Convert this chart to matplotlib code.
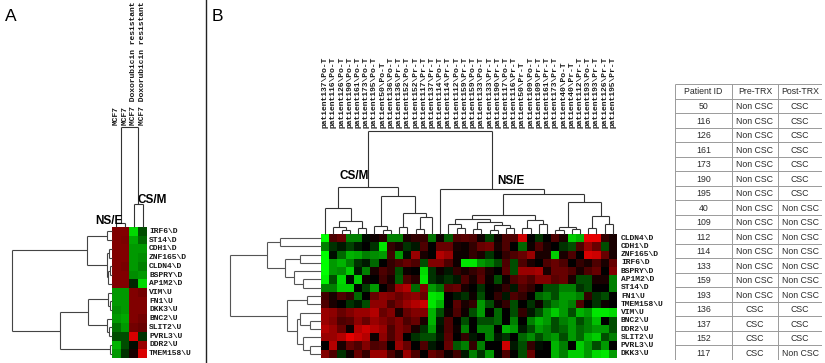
import matplotlib
matplotlib.use("Agg")
import matplotlib.pyplot as plt
from matplotlib.collections import LineCollection
from matplotlib.colors import LinearSegmentedColormap
import numpy as np

W, H = 825, 363

# ---------------- DATA ----------------
a_samples = ["MCF7", "MCF7", "MCF7 Doxorubicin resistant", "MCF7 Doxorubicin resistant"]
a_genes = ["IRF6\\D", "ST14\\D", "CDH1\\D", "ZNF165\\D", "CLDN4\\D", "BSPRY\\D", "AP1M2\\D",
           "VIM\\U", "FN1\\U", "DKK3\\U", "BNC2\\U", "SLIT2\\U", "PVRL3\\U", "DDR2\\U", "TMEM158\\U"]
a_values = [
    [0.5, 0.5, -0.85, -0.3],
    [0.5, 0.48, -0.65, -0.4],
    [0.5, 0.5, -0.6, -0.6],
    [0.5, 0.5, -0.6, -0.55],
    [0.5, 0.47, -0.6, -0.5],
    [0.5, 0.5, -0.55, -0.6],
    [0.5, 0.5, -0.15, -0.85],
    [-0.6, -0.6, 0.5, 0.45],
    [-0.6, -0.6, 0.5, 0.5],
    [-0.55, -0.6, 0.5, 0.5],
    [-0.6, -0.65, 0.5, 0.45],
    [-0.45, -0.6, 0.45, 0.4],
    [-0.3, -0.3, 0.85, -0.2],
    [-0.7, -0.3, -0.05, 0.6],
    [-0.6, -0.2, 0.1, 0.85],
]
# dendrograms: (left, right, height); leaves are display-order indices
a_col_tree = ((0, 1, 0.04), (2, 3, 0.23), 1.0)
a_row_tree = (((0, 1, 0.05), ((2, 3, 0.03), ((4, 5, 0.02), 6, 0.04), 0.05), 0.25),
              (((7, (8, 9, 0.02), 0.04), (10, (11, 12, 0.03), 0.05), 0.24), (13, 14, 0.02), 0.52),
              1.0)

b_samples = ["patient137\\Po-T", "patient116\\Po-T", "patient126\\Po-T", "patient190\\Po-T",
             "patient161\\Po-T", "patient173\\Po-T", "patient195\\Po-T", "patient50\\Po-T",
             "patient136\\Po-T", "patient136\\Pr-T", "patient152\\Po-T", "patient152\\Pr-T",
             "patient117\\Pr-T", "patient137\\Pr-T", "patient114\\Po-T", "patient114\\Pr-T",
             "patient112\\Po-T", "patient159\\Pr-T", "patient159\\Po-T", "patient133\\Po-T",
             "patient133\\Pr-T", "patient190\\Pr-T", "patient117\\Po-T", "patient116\\Pr-T",
             "patient50\\Pr-T", "patient109\\Po-T", "patient109\\Pr-T", "patient161\\Pr-T",
             "patient173\\Pr-T", "patient40\\Po-T", "patient40\\Pr-T", "patient112\\Pr-T",
             "patient193\\Po-T", "patient193\\Pr-T", "patient126\\Pr-T", "patient195\\Pr-T"]
b_genes = ["CLDN4\\D", "CDH1\\D", "ZNF165\\D", "IRF6\\D", "BSPRY\\D", "AP1M2\\D", "ST14\\D",
           "FN1\\U", "TMEM158\\U", "VIM\\U", "BNC2\\U", "DDR2\\U", "SLIT2\\U", "PVRL3\\U", "DKK3\\U"]
b_values = [
    [-1.0, 0.3, 0.4, -0.5, -0.5, -0.05, 0.05, 0.15, -0.5, -0.5, 0.1, 0.2, 0.2, -0.45, 0.05, -0.35, 0.3, 0.35, 0.3,
     0.05, -0.25, 0.05, 0.3, 0.3, 0.8, 0.0, -0.2, 0.0, 0.3, 0.1, -0.8, -0.7, 0.9, 0.9, 0.2, 0.1],
    [-0.5, -0.2, -0.1, -0.25, -0.1, 0.0, -0.2, -0.9, 0.2, 0.1, -0.2, -0.1, 0.3, 0.0, 0.4, 0.4, 0.1, 0.05, 0.2,
     0.4, 0.45, 0.1, 0.3, 0.0, -0.4, 0.05, 0.3, 0.1, 0.0, -0.2, -0.3, 0.3, 0.6, 0.4, -0.3, 0.1],
    [-1.0, -0.05, -0.4, -0.7, -0.65, -0.5, -0.55, -0.6, 0.25, -0.6, -0.05, 0.6, 0.1, 0.0, 0.7, 0.6, 0.05, 0.05, 0.2,
     0.1, -0.2, 0.0, 0.2, 0.3, 0.4, 0.6, 0.1, 0.1, -0.8, 0.1, 0.3, 0.0, 0.85, 0.8, 0.4, 0.1],
    [-1.0, -0.6, -0.7, -0.5, -0.2, -0.1, -0.4, 0.0, 0.2, 0.3, 0.4, 0.3, -0.3, 0.5, 0.5, 0.3, 0.05, -0.9, -0.9,
     -0.6, -0.5, -0.3, 0.3, -0.3, 0.3, 0.1, 0.0, 0.3, 0.4, 0.3, 0.0, 0.2, 0.1, 0.3, 0.1, 0.4],
    [-1.0, -0.6, -0.55, -0.8, -0.1, -0.5, 0.1, 0.3, 0.2, -0.3, 0.05, 0.0, -0.85, -0.2, 0.05, -0.1, 0.2, 0.1, 0.2,
     0.3, 0.1, 0.0, 0.35, -0.3, 0.6, 0.6, 0.65, 0.1, 0.4, 0.4, 0.3, 0.1, 0.3, 0.4, 0.0, 0.5],
    [-0.95, -0.3, -0.85, -0.05, -0.8, 0.05, 0.0, 0.25, 0.1, -0.35, 0.3, 0.15, -0.9, -0.2, -0.1, -0.2, -0.1, 0.3, 0.1,
     0.35, 0.05, -0.3, 0.05, 0.3, 0.4, 0.3, 0.5, 0.5, 0.35, 0.4, 0.1, -0.3, -0.3, 0.1, 0.1, -0.5],
    [-0.5, -0.5, -0.8, -0.8, 0.0, -0.25, -0.6, 0.0, 0.2, 0.6, 0.7, -0.4, 0.5, -0.6, -0.45, 0.35, 0.4, 0.1, 0.0,
     -0.2, 0.0, 0.05, 0.2, -0.1, 0.3, 0.2, 0.0, -0.3, -0.3, -0.5, -0.5, -0.2, -0.3, 0.0, 0.0, -0.5],
    [0.25, 0.1, 0.3, 0.2, -0.4, 0.0, 0.4, 0.55, 0.5, 0.4, 0.5, 0.55, 0.4, -0.9, -0.85, 0.0, -0.1, -0.2, 0.05,
     -0.3, 0.0, 0.2, -0.1, 0.3, 0.2, 0.0, -0.4, -0.5, -0.3, -0.6, -0.6, -0.5, 0.2, -0.2, -0.3, 0.0],
    [0.3, 0.1, 0.0, -0.2, -0.1, -0.3, 0.55, 0.55, 0.3, 0.45, 0.6, 0.7, 0.8, -0.9, -0.7, 0.0, 0.35, 0.1, 0.2,
     -0.6, -0.3, 0.05, 0.2, -0.3, 0.0, -0.2, 0.05, -0.3, -0.5, -0.6, -0.5, 0.3, 0.0, -0.2, 0.05, 0.0],
    [0.6, 0.55, 0.4, 0.5, 0.6, 0.6, 0.7, 0.4, 0.5, 0.1, 0.4, 0.5, 0.5, -0.7, -0.3, 0.05, 0.3, 0.05, -0.3,
     -0.6, 0.0, -0.4, 0.0, -0.3, 0.2, -0.1, -0.3, -0.6, -0.8, -0.6, -0.3, -0.7, -0.6, -0.9, -0.9, -0.85],
    [0.6, 0.5, 0.3, 0.35, 0.55, 0.4, 0.6, 0.5, 0.4, 0.5, 0.3, 0.4, 0.1, -0.7, -0.1, 0.3, 0.0, -0.3, 0.0,
     -0.3, -0.3, -0.4, 0.0, -0.5, 0.0, -0.5, -0.7, -0.6, -0.3, -0.5, -0.6, -0.3, -0.5, -0.75, 0.0, -0.3],
    [0.7, 0.6, 0.4, 0.05, 0.7, 0.8, 0.7, 0.6, 0.3, 0.5, 0.4, 0.1, -0.2, -0.6, -0.05, 0.3, 0.05, -0.5, 0.0,
     -0.5, -0.5, 0.0, -0.7, -0.6, -0.1, -0.3, -0.6, -0.5, -0.3, -0.4, -0.6, -0.4, -0.5, -0.6, -0.6, -0.3],
    [0.6, 0.6, 0.7, 0.9, 0.8, 0.7, 0.05, 0.55, 0.3, 0.5, 0.0, -0.2, -0.3, -0.3, -0.1, 0.35, 0.0, 0.2, -0.1,
     0.0, -0.5, -0.1, -0.2, 0.0, -0.4, -0.55, -0.3, -0.5, -0.6, -0.3, -0.6, -0.4, -0.7, -0.8, -0.3, -0.5],
    [0.0, 0.7, 0.1, 0.4, 0.3, 0.5, 0.3, 0.35, 0.0, 0.6, 0.4, 0.0, 0.3, -0.1, 0.0, 0.4, -0.35, -0.5, 0.2,
     -0.5, 0.0, 0.0, 0.8, -0.1, -0.3, 0.2, -0.05, 0.0, -0.7, -0.5, 0.0, -0.8, -0.6, -0.3, -0.6, 0.0],
    [0.5, 0.3, -0.2, 0.05, 0.4, 0.2, 0.6, 0.6, 0.3, 0.1, 0.6, 0.3, 0.0, 0.4, 0.3, 0.05, 0.25, -0.1, -0.5,
     -0.2, -0.6, 0.0, 0.3, 0.0, -0.3, 0.4, 0.0, 0.0, -0.7, -0.5, -0.8, -0.8, -0.6, -0.85, -0.9, -0.6],
]
b_col_tree = (
    ((0, ((1, (2, 3, 0.04), 0.07), (4, 5, 0.06), 0.13), 0.252),
     ((6, (7, 8, 0.04), 0.08), ((9, 10, 0.07), ((11, 12, 0.05), 13, 0.165), 0.2), 0.369), 0.456),
    (14,
     ((((15, (16, 17, 0.06), 0.1), ((18, 19, 0.05), ((20, 21, 0.04), (22, 23, 0.06), 0.09), 0.12), 0.15),
       ((24, 25, 0.06), (26, 27, 0.1), 0.14), 0.18),
      (((28, 29, 0.04), (30, 31, 0.05), 0.07), ((32, 33, 0.06), (34, 35, 0.1), 0.175), 0.31), 0.388),
     0.437),
    1.0)
b_row_tree = (
    ((0, 1, 0.45), ((2, 3, 0.23), (4, (5, 6, 0.2), 0.3), 0.4), 0.593),
    ((7, 8, 0.15), ((9, (10, 11, 0.12), 0.23), (12, (13, 14, 0.12), 0.2), 0.26), 0.37),
    1.0)

patient_ids = ["50", "116", "126", "161", "173", "190", "195", "40", "109",
               "112", "114", "133", "159", "193", "136", "137", "152", "117"]
pre_trx = ["Non CSC"] * 14 + ["CSC"] * 4
post_trx = ["CSC"] * 7 + ["Non CSC"] * 7 + ["CSC", "CSC", "CSC", "Non CSC"]
table_header = ["Patient ID", "Pre-TRX", "Post-TRX"]

# ---------------- HELPERS ----------------
cmap = LinearSegmentedColormap.from_list("gkr", ["#00ff00", "#000000", "#ff0000"])
MONO = "Liberation Mono"
SANS = "Liberation Sans"

fig = plt.figure(figsize=(W / 100, H / 100), dpi=100)
fig.patch.set_facecolor("white")


def pax(x0, y0, x1, y1):
    ax = fig.add_axes([x0 / W, 1 - y1 / H, (x1 - x0) / W, (y1 - y0) / H])
    ax.axis("off")
    return ax


def tree_segments(node, segs):
    if isinstance(node, int):
        return float(node), 0.0
    left, right, h = node
    xl, hl = tree_segments(left, segs)
    xr, hr = tree_segments(right, segs)
    segs.append([(xl, hl), (xl, h)])
    segs.append([(xl, h), (xr, h)])
    segs.append([(xr, h), (xr, hr)])
    return (xl + xr) / 2, h


def draw_col_tree(ax, tree, n, color, lw=0.8):
    segs = []
    tree_segments(tree, segs)
    ax.add_collection(LineCollection(segs, colors=color, linewidths=lw, clip_on=False))
    ax.set_xlim(-0.5, n - 0.5)
    ax.set_ylim(0, 1.0)


def draw_row_tree(ax, tree, n, color, lw=0.8):
    segs = []
    tree_segments(tree, segs)
    segs = [[(h, x) for (x, h) in s] for s in segs]
    ax.add_collection(LineCollection(segs, colors=color, linewidths=lw, clip_on=False))
    ax.set_xlim(1.0, 0)
    ax.set_ylim(n - 0.5, -0.5)


def ftext(x, y, s, **kw):
    fig.text(x / W, 1 - y / H, s, **kw)


LBL = dict(fontsize=5.8, family=MONO, color="#1a1a1a", fontweight="bold")

# ---------------- PANEL A ----------------
A = np.array(a_values)
ax_ah = pax(112, 227, 147, 358)
ax_ah.imshow(A, cmap=cmap, vmin=-1, vmax=1, aspect="auto", interpolation="nearest")
ax_ah.axis("off")
for i, g in enumerate(a_genes):
    ax_ah.text(1.0 + 2 / 35, i, g, transform=ax_ah.get_yaxis_transform(),
               ha="left", va="center", **LBL)

ax_ac = pax(112, 127, 147, 227)
draw_col_tree(ax_ac, a_col_tree, len(a_samples), "#333333")
for i, s in enumerate(a_samples):
    ax_ac.text(i, 1.0 + 2 / 100, s, transform=ax_ac.get_xaxis_transform(), rotation=90,
               ha="center", va="bottom", **LBL)

ax_ar = pax(12, 227, 112, 358)
draw_row_tree(ax_ar, a_row_tree, len(a_genes), "#444444")

ftext(138, 203, "CS/M", fontsize=8.5, fontweight="bold", family=SANS, ha="left", va="baseline")
ftext(95, 224, "NS/E", fontsize=8.5, fontweight="bold", family=SANS, ha="left", va="baseline")

# ---------------- PANEL B ----------------
B = np.array(b_values)
ax_bh = pax(321, 234, 617, 358)
ax_bh.imshow(B, cmap=cmap, vmin=-1, vmax=1, aspect="auto", interpolation="nearest")
ax_bh.axis("off")
for i, g in enumerate(b_genes):
    ax_bh.text(1.0 + 4 / 296, i, g, transform=ax_bh.get_yaxis_transform(),
               ha="left", va="center", **LBL)

ax_bc = pax(321, 131, 617, 234)
draw_col_tree(ax_bc, b_col_tree, len(b_samples), "#333333")
for i, s in enumerate(b_samples):
    ax_bc.text(i, 1.0 + 3 / 103, s, transform=ax_bc.get_xaxis_transform(), rotation=90,
               ha="center", va="bottom", **LBL)

ax_br = pax(230, 234, 321, 358)
draw_row_tree(ax_br, b_row_tree, len(b_genes), "#555555")

ftext(340, 179, "CS/M", fontsize=8.5, fontweight="bold", family=SANS, ha="left", va="baseline")
ftext(497, 184, "NS/E", fontsize=8.5, fontweight="bold", family=SANS, ha="left", va="baseline")

# ---------------- TABLE ----------------
ax_t = pax(675, 84, 822, 360)
col_w = [57, 46, 44]
edges = np.concatenate([[0], np.cumsum(col_w)])
nrows = len(patient_ids) + 1
ax_t.set_xlim(0, edges[-1])
ax_t.set_ylim(nrows, 0)
ax_t.hlines(np.arange(nrows + 1), 0, edges[-1], colors="#9a9a9a", linewidth=0.7)
ax_t.vlines(edges, 0, nrows, colors="#9a9a9a", linewidth=0.7)
rows = [table_header] + [list(r) for r in zip(patient_ids, pre_trx, post_trx)]
for r, row in enumerate(rows):
    for c, val in enumerate(row):
        ax_t.text((edges[c] + edges[c + 1]) / 2, r + 0.55, val, ha="center", va="center",
                  fontsize=6.3, family=SANS, color="#2a2a2a")

# ---------------- PANEL LETTERS & DIVIDER ----------------
ftext(5, 21, "A", fontsize=12.5, family=SANS, ha="left", va="baseline")
ftext(212, 21, "B", fontsize=12.5, family=SANS, ha="left", va="baseline")
fig.add_artist(plt.Line2D([205.5 / W, 205.5 / W], [0, 1], color="#222222", linewidth=1.0))

fig.savefig("out.png", dpi=100, facecolor="white")
